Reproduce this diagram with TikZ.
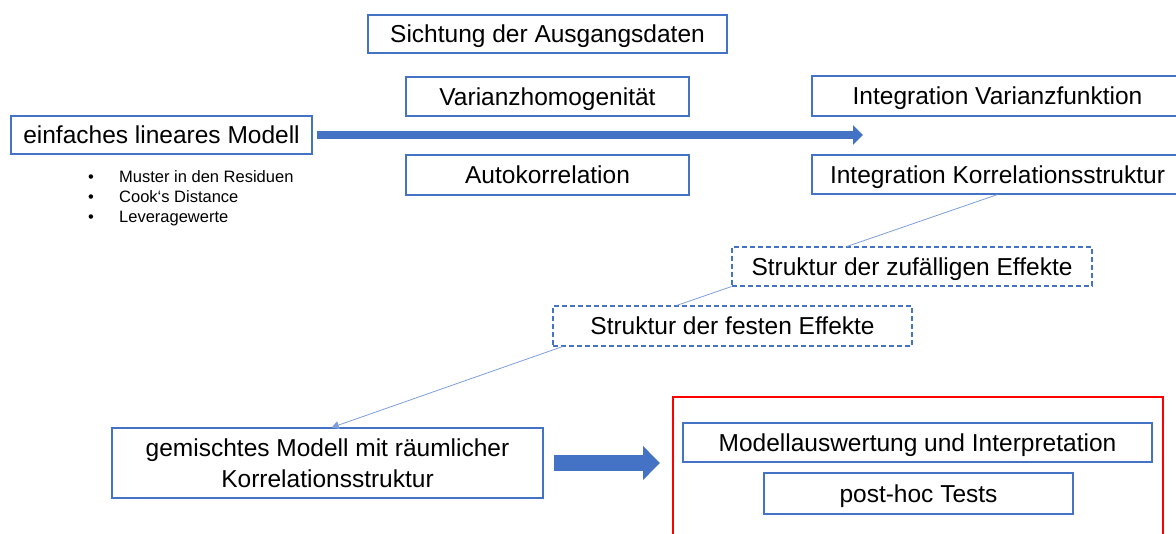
\documentclass[tikz,border=0pt]{standalone}
\usepackage{fontspec}
\setmainfont{Liberation Sans}
\usetikzlibrary{arrows.meta,calc}
\definecolor{boxblue}{RGB}{68,114,196}
\definecolor{linkblue}{RGB}{125,158,222}
\begin{document}
\begin{tikzpicture}[x=1pt,y=-1pt,
    frame/.style={draw=boxblue,line width=1.1pt,inner sep=0pt,align=center,
      font=\fontsize{24.5}{31}\selectfont},
    box/.style={frame,text height=18pt,text depth=0pt},
    dashbox/.style={box,dash pattern=on 5pt off 3pt},
    link/.style={draw=linkblue,line width=0.8pt},
    flow/.style={draw=boxblue}]
  \useasboundingbox (0,0) rectangle (1176,534);
  \clip (0,0) rectangle (1176,534);

  % Start
  \node[box,minimum width=301pt,minimum height=38pt] (einf) at (161.5,135) {einfaches lineares Modell};
  \foreach \txt [count=\i] in {Muster in den Residuen,Cook‘s Distance,Leveragewerte}
  {
    \pgfmathsetmacro{\y}{163+20*\i}
    \node[anchor=base,inner sep=0pt,font=\fontsize{16.5}{20}\selectfont] (dot\i) at (91,\y) {•};
    \node[anchor=base west,inner sep=0pt,font=\fontsize{16.5}{20}\selectfont] (item\i) at (119,\y) {\txt};
  }

  % Checks
  \node[box,minimum width=359pt,minimum height=38pt] (sicht) at (547.5,34) {Sichtung der Ausgangsdaten};
  \node[box,minimum width=283pt,minimum height=39pt] (varh) at (547.5,96.5) {Varianzhomogenität};
  \node[box,minimum width=283pt,minimum height=40pt] (auto) at (547.5,175) {Autokorrelation};

  % Extensions
  \node[box,minimum width=371pt,minimum height=40pt] (ivar) at (997.5,96) {Integration Varianzfunktion};
  \node[box,minimum width=371pt,minimum height=39pt] (ikorr) at (997.5,174.5) {Integration Korrelationsstruktur};
  \node[dashbox,minimum width=360pt,minimum height=39pt] (zuf) at (912,266.5) {Struktur der zufälligen Effekte};
  \node[dashbox,minimum width=359pt,minimum height=40pt] (fest) at (732.5,326) {Struktur der festen Effekte};

  % Result
  \node[frame,minimum width=431pt,minimum height=70pt] (gem) at (327.5,463) {gemischtes Modell mit räumlicher\\Korrelationsstruktur};
  \node[draw=red,line width=2pt,minimum width=490pt,minimum height=203pt] (fazit) at (918,498.5) {};
  \node[box,minimum width=469pt,minimum height=39pt] (modell) at (917.5,442.5) {Modellauswertung und Interpretation};
  \node[box,minimum width=309pt,minimum height=41pt] (posthoc) at (918.5,493.5) {post-hoc Tests};

  % Arrows
  \coordinate (tip1) at (863,135);
  \coordinate (tip2) at (660,463);
  \draw[flow,line width=8pt,-{Triangle[length=10pt,width=19pt]}] ([xshift=4pt]einf.east) -- (tip1);
  \draw[flow,line width=16pt,-{Triangle[length=17pt,width=33pt]}] ([xshift=10pt]gem.east) -- (tip2);

  \draw[link] (ikorr.south) -- ($(zuf.north west)!0.32!(zuf.north east)$);
  \draw[link] (zuf.south west) -- ($(fest.north west)!0.345!(fest.north east)$);
  \draw[link,-{Triangle[length=7pt,width=8pt]}] ($(fest.south west)!0.028!(fest.south east)$) -- ($(gem.north west)!0.51!(gem.north east)$);
\end{tikzpicture}
\end{document}
